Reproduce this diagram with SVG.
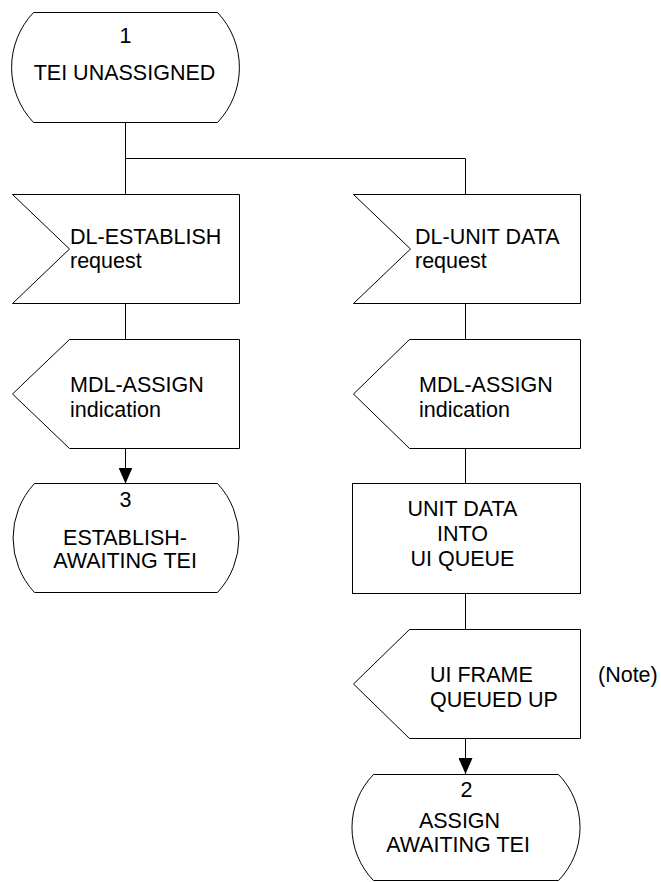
<svg xmlns="http://www.w3.org/2000/svg" width="661" height="882" viewBox="0 0 661 882">
  <style>
    .shape { fill: #ffffff; stroke: #000000; stroke-width: 1; }
    .wire { fill: none; stroke: #000000; stroke-width: 1; }
    text { font-family: "Liberation Sans", Arial, Helvetica, sans-serif; font-size: 21.5px; fill: #000000; }
    .c { text-anchor: middle; }
  </style>
  <defs>
    <marker id="arrow" markerUnits="userSpaceOnUse" markerWidth="16" markerHeight="14" viewBox="0 0 16 14" refX="16" refY="7" orient="auto">
      <path d="M0,0 L16,7 L0,14 Z" fill="#000000"/>
    </marker>
  </defs>

  <rect width="661" height="882" fill="#ffffff"/>

  <!-- connectors -->
  <g id="connectors">
    <path class="wire" d="M125.5,122.5 V194.5"/>
    <path class="wire" d="M125.5,158.5 H465.5 V194.5"/>
    <path class="wire" d="M125.5,303.5 V339.5"/>
    <path class="wire" d="M125.5,448.5 V483.5" marker-end="url(#arrow)"/>
    <path class="wire" d="M465.5,303.5 V339.5"/>
    <path class="wire" d="M465.5,448.5 V483.5"/>
    <path class="wire" d="M465.5,593.5 V629.5"/>
    <path class="wire" d="M465.5,738.5 V774" marker-end="url(#arrow)"/>
  </g>

  <!-- state 1 -->
  <g id="state1">
    <path class="shape" d="M33.5,12.5 H217.5 A80,80 0 0 1 217.5,122.5 H33.5 A80,80 0 0 1 33.5,12.5 Z"/>
    <text class="c" x="125.5" y="43">1</text>
    <text class="c" x="124.5" y="80">TEI UNASSIGNED</text>
  </g>

  <!-- input: DL-ESTABLISH request -->
  <g id="in_establish">
    <path class="shape" d="M12.5,194.5 H239.5 V303.5 H12.5 L69.5,249 Z"/>
    <text x="70" y="244">DL-ESTABLISH</text>
    <text x="70" y="268">request</text>
  </g>

  <!-- output: MDL-ASSIGN indication (left) -->
  <g id="out_assign_left">
    <path class="shape" d="M69.5,339.5 H239.5 V448.5 H69.5 L12.5,394 Z"/>
    <text x="70" y="392">MDL-ASSIGN</text>
    <text x="70" y="417">indication</text>
  </g>

  <!-- state 3 -->
  <g id="state3">
    <path class="shape" d="M34.5,483.5 H217.5 A80,80 0 0 1 217.5,592.5 H34.5 A80,80 0 0 1 34.5,483.5 Z"/>
    <text class="c" x="125.5" y="507">3</text>
    <text class="c" x="125" y="545">ESTABLISH-</text>
    <text class="c" x="125" y="568">AWAITING TEI</text>
  </g>

  <!-- input: DL-UNIT DATA request -->
  <g id="in_unitdata">
    <path class="shape" d="M353.5,194.5 H580.5 V303.5 H353.5 L410.5,249 Z"/>
    <text x="415" y="244">DL-UNIT DATA</text>
    <text x="415" y="268">request</text>
  </g>

  <!-- output: MDL-ASSIGN indication (right) -->
  <g id="out_assign_right">
    <path class="shape" d="M409.5,339.5 H580.5 V448.5 H409.5 L353.5,394 Z"/>
    <text x="419" y="392">MDL-ASSIGN</text>
    <text x="419" y="417">indication</text>
  </g>

  <!-- task: unit data into UI queue -->
  <g id="task_queue">
    <rect class="shape" x="352.5" y="483.5" width="228" height="110"/>
    <text class="c" x="462.5" y="515.5">UNIT DATA</text>
    <text class="c" x="462.5" y="540.5">INTO</text>
    <text class="c" x="462.5" y="565.5">UI QUEUE</text>
  </g>

  <!-- output: UI FRAME QUEUED UP -->
  <g id="out_uiframe">
    <path class="shape" d="M409.5,629.5 H580.5 V738.5 H409.5 L353.5,684 Z"/>
    <text x="430" y="682">UI FRAME</text>
    <text x="430" y="707">QUEUED UP</text>
  </g>

  <!-- note -->
  <g id="note">
    <text x="598" y="682">(Note)</text>
  </g>

  <!-- state 2 -->
  <g id="state2">
    <path class="shape" d="M373.5,774.5 H558.5 A76,76 0 0 1 558.5,880.5 H373.5 A76,76 0 0 1 373.5,774.5 Z"/>
    <text class="c" x="466.5" y="797">2</text>
    <text class="c" x="459.5" y="827.5">ASSIGN</text>
    <text class="c" x="458" y="852">AWAITING TEI</text>
  </g>
</svg>
